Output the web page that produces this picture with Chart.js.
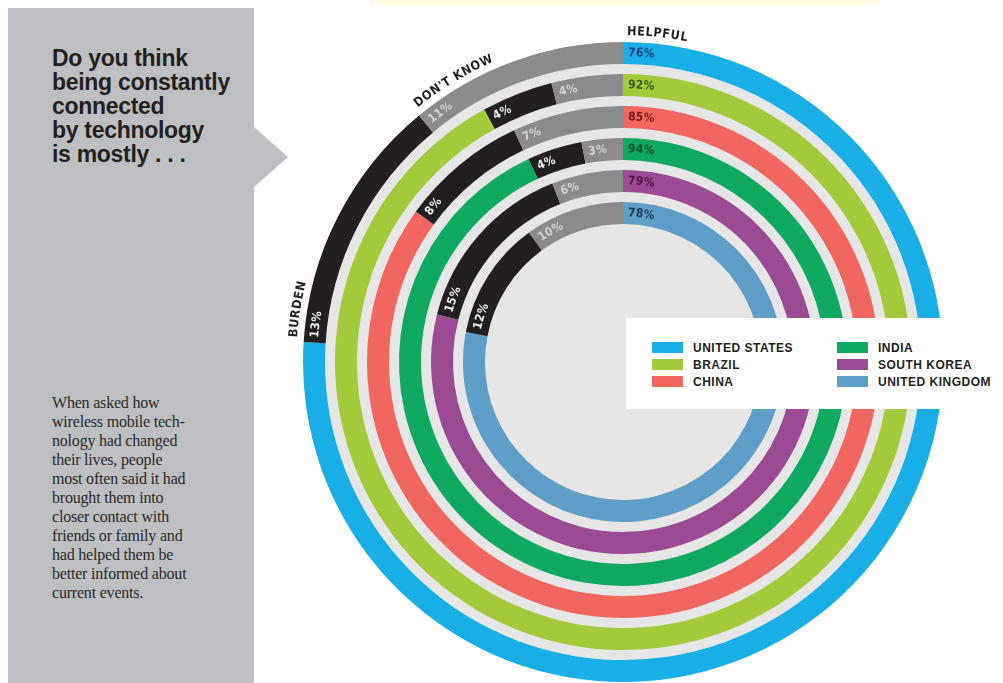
<!DOCTYPE html>
<html lang="en">
<head>
  <meta charset="UTF-8">
  <title>Constantly connected</title>
  <script src="https://cdn.jsdelivr.net/npm/chart.js"></script>
  <style>
    body {
      margin: 0;
      width: 1003px;
      height: 683px;
      position: relative;
      overflow: hidden;
      background: #ffffff;
    }

    .top-strip {
      position: absolute;
      left: 370px;
      top: 0;
      width: 510px;
      height: 5px;
      background: #fdf9e2;
    }

    .panel {
      position: absolute;
      left: 8px;
      top: 8px;
      width: 246px;
      height: 675px;
      background: #bdbfc2;
    }

    .panel .arrow {
      position: absolute;
      left: 246px;
      top: 119px;
      width: 0;
      height: 0;
      border-top: 30px solid transparent;
      border-bottom: 30px solid transparent;
      border-left: 34px solid #bdbfc2;
    }

    .panel h1 {
      position: absolute;
      left: 44px;
      top: 38px;
      margin: 0;
      font: bold 23px/24px "Liberation Sans", Arial, sans-serif;
      letter-spacing: -0.3px;
      color: #231f20;
    }

    .panel p {
      position: absolute;
      left: 44px;
      top: 385px;
      margin: 0;
      font: 16px/19px "Liberation Serif", "Times New Roman", serif;
      letter-spacing: -0.2px;
      color: #2b2b2b;
    }

    .chart-box {
      position: absolute;
      left: 263px;
      top: 2px;
      width: 720px;
      height: 720px;
    }

    .legend {
      position: absolute;
      left: 626px;
      top: 318px;
      width: 377px;
      height: 91px;
      background: #ffffff;
      z-index: 2;
    }

    .legend .item {
      position: absolute;
      height: 17px;
      display: flex;
      align-items: center;
      font: bold 12px "Liberation Sans", Arial, sans-serif;
      letter-spacing: 0.5px;
      color: #231f20;
      white-space: nowrap;
    }

    .legend .sw {
      width: 31px;
      height: 11px;
      margin-right: 10px;
    }
  </style>
</head>
<body>
  <div class="top-strip"></div>

  <div class="panel">
    <div class="arrow"></div>
    <h1>Do you think<br>being constantly<br>connected<br>by technology<br>is mostly . . .</h1>
    <p>When asked how<br>wireless mobile tech-<br>nology had changed<br>their lives, people<br>most often said it had<br>brought them into<br>closer contact with<br>friends or family and<br>had helped them be<br>better informed about<br>current events.</p>
  </div>

  <div class="chart-box"><canvas id="rings"></canvas></div>

  <div class="legend" id="legend"></div>

  <script>
    const countries = ['UNITED STATES', 'BRAZIL', 'CHINA', 'INDIA', 'SOUTH KOREA', 'UNITED KINGDOM'];
    const answers = ['HELPFUL', 'BURDEN', "DON'T KNOW"];
    const helpful = [76, 92, 85, 94, 79, 78];
    const burden = [13, 4, 8, 4, 15, 12];
    const dontKnow = [11, 4, 7, 3, 6, 10];

    const countryColors = ['#19aee6', '#a2cb3c', '#f1675f', '#0faa60', '#9a4b94', '#5f9ec6'];
    const helpfulTextColors = ['#1b3f78', '#3c5618', '#7a1c1c', '#0b5030', '#4a1a4a', '#1d3b5c'];
    const burdenColor = '#231f20';
    const dontKnowColor = '#8b8b8d';
    const gapColor = '#e6e6e6';
    const labelFont = 'bold 12px "DejaVu Sans Condensed", "DejaVu Sans", sans-serif';

    // legend (html, sits over the rings like in the print version)
    const legend = document.getElementById('legend');
    countries.forEach((name, i) => {
      const col = Math.floor(i / 3), row = i % 3;
      const el = document.createElement('div');
      el.className = 'item';
      el.style.left = (col ? 211 : 26) + 'px';
      el.style.top = (21 + row * 17) + 'px';
      el.innerHTML = '<span class="sw" style="background:' + countryColors[i] + '"></span>' + name;
      legend.appendChild(el);
    });

    // datasets: one ring per country, thin transparent spacer between rings
    const datasets = [];
    countries.forEach((name, i) => {
      if (i > 0) {
        datasets.push({ spacer: true, data: [1], backgroundColor: 'rgba(0,0,0,0)', weight: 10 });
      }
      datasets.push({
        label: name,
        data: [helpful[i], burden[i], dontKnow[i]],
        backgroundColor: [countryColors[i], burdenColor, dontKnowColor],
        textColors: [helpfulTextColors[i], '#ececec', '#d2d2d2'],
        weight: 22
      });
    });

    // draws text char by char along a circle, clockwise from angle a
    function arcText(ctx, text, cx, cy, r, a, spacing) {
      for (const ch of text) {
        const w = ctx.measureText(ch).width;
        const mid = a + (w / 2) / r;
        ctx.save();
        ctx.translate(cx + r * Math.cos(mid), cy + r * Math.sin(mid));
        ctx.rotate(mid + Math.PI / 2);
        ctx.fillText(ch, 0, 0);
        ctx.restore();
        a += (w + spacing) / r;
      }
    }

    const ringLabels = {
      id: 'ringLabels',
      beforeDatasetsDraw(chart) {
        const outer = chart.getDatasetMeta(0).data[0];
        const ctx = chart.ctx;
        ctx.save();
        ctx.beginPath();
        ctx.arc(outer.x, outer.y, outer.innerRadius, 0, Math.PI * 2);
        ctx.fillStyle = gapColor;
        ctx.fill();
        ctx.restore();
      },
      afterDatasetsDraw(chart) {
        const ctx = chart.ctx;
        ctx.save();
        ctx.font = labelFont;
        ctx.textAlign = 'center';
        ctx.textBaseline = 'middle';
        chart.data.datasets.forEach((ds, di) => {
          if (ds.spacer) return;
          chart.getDatasetMeta(di).data.forEach((arc, i) => {
            const r = (arc.innerRadius + arc.outerRadius) / 2;
            ctx.fillStyle = ds.textColors[i];
            arcText(ctx, ds.data[i] + '%', arc.x, arc.y, r, arc.startAngle + 5 / r, 0.3);
          });
        });

        // answer names outside the outer ring
        const outerArcs = chart.getDatasetMeta(0).data;
        ctx.font = 'bold 12.5px "DejaVu Sans Condensed", "DejaVu Sans", sans-serif';
        ctx.textBaseline = 'alphabetic';
        ctx.fillStyle = '#231f20';
        answers.forEach((name, i) => {
          const arc = outerArcs[i];
          const r = arc.outerRadius + 7;
          arcText(ctx, name, arc.x, arc.y, r, arc.startAngle + 4 / r, 0.6);
        });
        ctx.restore();
      }
    };

    new Chart(document.getElementById('rings'), {
      type: 'doughnut',
      data: { labels: answers, datasets: datasets },
      options: {
        responsive: true,
        maintainAspectRatio: false,
        animation: false,
        events: [],
        cutout: '43.125%',
        layout: { padding: 40 },
        elements: { arc: { borderWidth: 0, hoverOffset: 0, offset: 0 } },
        plugins: {
          legend: { display: false },
          tooltip: { enabled: false }
        }
      },
      plugins: [ringLabels]
    });
  </script>
</body>
</html>
